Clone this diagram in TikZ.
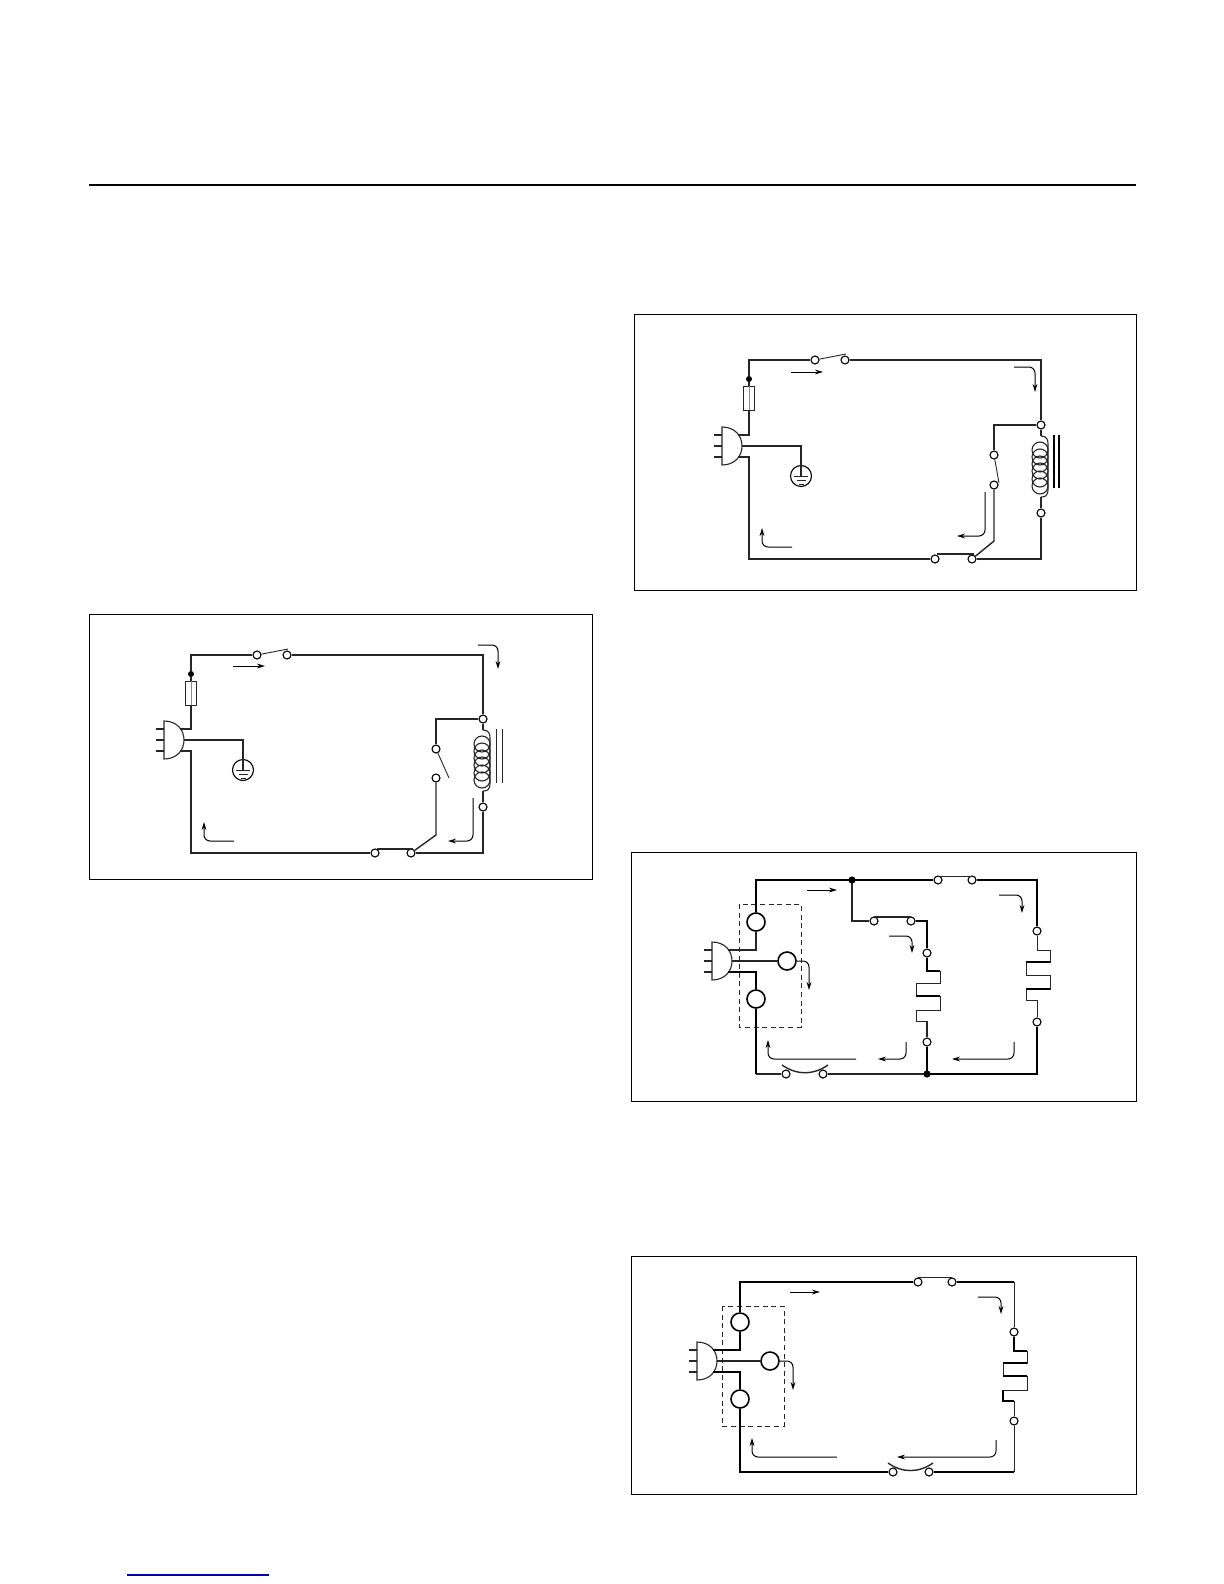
\documentclass[tikz,border=0pt]{standalone}
\usepackage{tikz}
\usetikzlibrary{arrows.meta}

\begin{document}
\begin{tikzpicture}
    [
        x=0.5pt, y=-0.5pt,
        frame/.style = {
            draw=black, line width=0.5pt
            },
        wire/.style = {
            draw=black!85, line width=0.7pt
            },
        heavywire/.style = {
            draw=black, line width=1.1pt
            },
        thinwire/.style = {
            draw=black!85, line width=0.45pt
            },
        flow/.style = {
            draw=black, line width=0.5pt, rounded corners=3pt,
            -{Stealth[length=4pt, width=2.4pt]}
            },
        terminal/.style = {
            circle, draw=black, fill=white, line width=0.55pt,
            inner sep=0pt, minimum size=4pt
            },
        lamp/.style = {
            circle, draw=black, fill=white, line width=0.8pt,
            inner sep=0pt, minimum size=9pt
            },
        junction/.style = {
            circle, fill=black, inner sep=0pt, minimum size=3pt
            },
        fuse/.style = {
            rectangle, draw=black!85, fill=white, line width=0.45pt,
            inner sep=0pt, minimum width=5.5pt, minimum height=12pt
            },
        plugsym/.pic = {
            \draw[thinwire, line width=0.55pt] (0,-19) .. controls (13,-19) and (20,-10) .. (20,0)
                .. controls (20,10) and (13,19) .. (0,19) -- cycle;
            \draw[thinwire, line width=0.55pt] (-8,-11) -- (0,-11);
            \draw[thinwire, line width=0.55pt] (-8,0) -- (0,0);
            \draw[thinwire, line width=0.55pt] (-8,11) -- (0,11);
            \coordinate (-top) at (16,-11);
            \coordinate (-mid) at (20,0);
            \coordinate (-bot) at (16,11);
            },
        groundsym/.pic = {
            \node[circle, draw=black, line width=0.55pt, inner sep=0pt, minimum size=10.5pt] (-can) at (0,0) {};
            \draw[thinwire] (-7,0) -- (7,0);
            \draw[thinwire] (-4.5,4) -- (4.5,4);
            \draw[thinwire] (-2.5,8) -- (2.5,8);
            \coordinate (-stem) at (0,0);
            },
        coilsym/.pic = {
            \draw[thinwire, line width=0.55pt] (-1,14) ellipse [x radius=8, y radius=8]
                (-1,21) ellipse [x radius=8, y radius=8]
                (-1,28) ellipse [x radius=8, y radius=8]
                (-1,35) ellipse [x radius=8, y radius=8]
                (-1,43) ellipse [x radius=8, y radius=8]
                (-1,50) ellipse [x radius=8, y radius=8];
            \draw[thinwire, line width=0.55pt] (0,0) .. controls (6,0) and (7,4) .. (7,8) -- (7,53)
                .. controls (7,60) and (4,61) .. (0,61);
            \coordinate (-top) at (0,0);
            \coordinate (-bot) at (0,61);
            },
        heatersym/.pic = {
            \coordinate (-p0) at (0,0);
            \coordinate (-p1) at (13,0);
            \coordinate (-p2) at (13,12);
            \coordinate (-p3) at (-11,12);
            \coordinate (-p4) at (-11,25);
            \coordinate (-p5) at (13,25);
            \coordinate (-p6) at (13,39);
            \coordinate (-p7) at (-11,39);
            \coordinate (-p8) at (-11,50);
            \coordinate (-p9) at (0,50);
            \draw[thinwire] (-p0) -- (-p1) -- (-p2) -- (-p3) -- (-p4) -- (-p5)
                -- (-p6) -- (-p7) -- (-p8) -- (-p9);
            },
    ]
    \useasboundingbox (0,0) rectangle (1224,1584);

    %page rules
    \coordinate (rule1) at (89,185);
    \coordinate (rule2) at (1136,185);
    \draw[line width=1pt] (rule1) -- (rule2);
    \coordinate (link1) at (127,1575);
    \coordinate (link2) at (269,1575);
    \draw[draw=blue!70!black, line width=0.6pt] (link1) -- (link2);

    %frames
    \draw[frame] (89,614) rectangle (592,879);
    \draw[frame] (634,314) rectangle (1136,590);
    \draw[frame] (631,852) rectangle (1136,1101);
    \draw[frame] (631,1256) rectangle (1136,1494);

    %---- first circuit ----
    %nodes
    \node[junction] (adot) at (191,674) {};
    \node[fuse] (afuse) at (191,693) {};
    \node[terminal] (asw1) at (257,655) {};
    \node[terminal] (asw2) at (287,655) {};
    \node[terminal] (acoil1) at (483,719) {};
    \node[terminal] (acoil2) at (483,807) {};
    \node[terminal] (arelay1) at (436,749) {};
    \node[terminal] (arelay2) at (436,778) {};
    \node[terminal] (asw3) at (375,853) {};
    \node[terminal] (asw4) at (411,853) {};
    \pic (aplug) at (164,740) {plugsym};
    \pic (agnd) at (243,770) {groundsym};
    \pic (acoil) at (483,730) {coilsym};
    \coordinate (atop) at (191,655);
    \coordinate (acorner) at (191,853);
    \coordinate (aarm) at (288,649);
    \coordinate (aopen) at (449,778);
    \coordinate (akink) at (436,835);
    \coordinate (abar1) at (377,849);
    \coordinate (abar2) at (413,849);
    \coordinate (acore1) at (496,729);
    \coordinate (acore2) at (496,783);
    \coordinate (acore3) at (502,729);
    \coordinate (acore4) at (502,783);
    %connecting nodes
    \draw[wire] (aplug-top) -| (afuse.south);
    \draw[thinwire, draw=black!45] (afuse.south) -- (afuse.north);
    \draw[wire] (afuse.north) -- (adot);
    \draw[wire] (adot) -- (atop) -- (asw1);
    \draw[wire] (asw2) -| (acoil1);
    \draw[wire] (acoil1) -- (acoil-top);
    \draw[wire] (acoil-bot) -- (acoil2);
    \draw[wire] (acoil2) |- (asw4);
    \draw[wire] (asw3) -- (acorner) |- (aplug-bot);
    \draw[wire] (aplug-mid) -| (agnd-stem);
    \draw[wire] (acoil1) -| (arelay1);
    \draw[wire] (arelay2) -- (akink) -- (asw4);
    \draw[thinwire] (asw1) -- (aarm);
    \draw[thinwire] (arelay1) -- (aopen);
    \draw[wire] (abar1) -- (abar2);
    \draw[thinwire] (acore1) -- (acore2);
    \draw[thinwire] (acore3) -- (acore4);
    %current arrows
    \coordinate (af1) at (233,666); \coordinate (af2) at (265,666);
    \draw[flow] (af1) -- (af2);
    \coordinate (af3) at (478,645); \coordinate (af4) at (498,669);
    \draw[flow] (af3) -| (af4);
    \coordinate (af5) at (473,798); \coordinate (af6) at (448,841);
    \draw[flow] (af5) |- (af6);
    \coordinate (af7) at (234,841); \coordinate (af8) at (204,822);
    \draw[flow] (af7) -| (af8);

    %---- second circuit ----
    %nodes
    \node[junction] (bdot) at (749,379) {};
    \node[fuse] (bfuse) at (749,398) {};
    \node[terminal] (bsw1) at (815,360) {};
    \node[terminal] (bsw2) at (845,360) {};
    \node[terminal] (bcoil1) at (1041,425) {};
    \node[terminal] (bcoil2) at (1041,513) {};
    \node[terminal] (brelay1) at (994,455) {};
    \node[terminal] (brelay2) at (994,485) {};
    \node[terminal] (bsw3) at (935,559) {};
    \node[terminal] (bsw4) at (972,559) {};
    \pic (bplug) at (722,446) {plugsym};
    \pic (bgnd) at (801,476) {groundsym};
    \pic (bcoil) at (1041,436) {coilsym};
    \coordinate (btop) at (749,360);
    \coordinate (bcorner) at (749,559);
    \coordinate (barm) at (846,354);
    \coordinate (bclosed) at (999,483);
    \coordinate (bkink) at (994,541);
    \coordinate (bbar1) at (937,554);
    \coordinate (bbar2) at (974,554);
    \coordinate (bcore1) at (1054,435);
    \coordinate (bcore2) at (1054,488);
    \coordinate (bcore3) at (1059,435);
    \coordinate (bcore4) at (1059,488);
    %connecting nodes
    \draw[wire] (bplug-top) -| (bfuse.south);
    \draw[thinwire, draw=black!45] (bfuse.south) -- (bfuse.north);
    \draw[wire] (bfuse.north) -- (bdot);
    \draw[wire] (bdot) -- (btop) -- (bsw1);
    \draw[wire] (bsw2) -| (bcoil1);
    \draw[wire] (bcoil1) -- (bcoil-top);
    \draw[wire] (bcoil-bot) -- (bcoil2);
    \draw[wire] (bcoil2) |- (bsw4);
    \draw[wire] (bsw3) -- (bcorner) |- (bplug-bot);
    \draw[wire] (bplug-mid) -| (bgnd-stem);
    \draw[wire] (bcoil1) -| (brelay1);
    \draw[wire] (brelay2) -- (bkink) -- (bsw4);
    \draw[thinwire] (bsw1) -- (barm);
    \draw[thinwire] (brelay1) -- (bclosed);
    \draw[wire] (bbar1) -- (bbar2);
    \draw[line width=0.8pt] (bcore1) -- (bcore2);
    \draw[line width=0.8pt] (bcore3) -- (bcore4);
    %current arrows
    \coordinate (bf1) at (791,372); \coordinate (bf2) at (823,372);
    \draw[flow] (bf1) -- (bf2);
    \coordinate (bf3) at (1014,367); \coordinate (bf4) at (1035,392);
    \draw[flow] (bf3) -| (bf4);
    \coordinate (bf5) at (985,492); \coordinate (bf6) at (957,536);
    \draw[flow] (bf5) |- (bf6);
    \coordinate (bf7) at (792,547); \coordinate (bf8) at (762,528);
    \draw[flow] (bf7) -| (bf8);

    %---- third circuit ----
    %nodes
    \draw[thinwire, dashed, dash pattern=on 2.5pt off 1.8pt] (739,904) rectangle (801,1027);
    \node[lamp] (clamp1) at (756,922) {};
    \node[lamp] (clamp2) at (787,961) {};
    \node[lamp] (clamp3) at (756,999) {};
    \node[terminal] (csw1) at (938,880) {};
    \node[terminal] (csw2) at (972,880) {};
    \node[terminal] (csw3) at (874,921) {};
    \node[terminal] (csw4) at (911,921) {};
    \node[terminal] (csw5) at (786,1074) {};
    \node[terminal] (csw6) at (823,1074) {};
    \node[terminal] (cterm1) at (1037,931) {};
    \node[terminal] (cterm2) at (1037,1022) {};
    \node[terminal] (cterm3) at (927,953) {};
    \node[terminal] (cterm4) at (927,1042) {};
    \pic (cplug) at (712,961) {plugsym};
    \pic (cheat1) at (1037,950) {heatersym};
    \pic (cheat2) at (927,971) {heatersym};
    \coordinate (cdot1) at (852,880);
    \coordinate (cdot2) at (927,1074);
    \coordinate (ctop1) at (756,880);
    \coordinate (ctop2) at (1037,880);
    \coordinate (cbot1) at (756,1074);
    \coordinate (cbot2) at (1037,1074);
    \coordinate (cbar1) at (938,876);
    \coordinate (cbar2) at (972,876);
    \coordinate (cbar3) at (874,917);
    \coordinate (cbar4) at (911,917);
    \coordinate (carc1) at (782,1065);
    \coordinate (carc2) at (828,1065);
    %connecting nodes
    \draw[wire] (cplug-top) -| (clamp1);
    \draw[heavywire] (clamp1) -- (ctop1) -- (cdot1) -- (csw1);
    \draw[heavywire] (csw2) -- (ctop2) -- (cterm1);
    \draw[thinwire] (cterm1) -- (cheat1-p0);
    \draw[heavywire] (cheat1-p2) -- (cheat1-p3);
    \draw[heavywire] (cheat1-p6) -- (cheat1-p7);
    \draw[thinwire] (cheat1-p9) -- (cterm2);
    \draw[heavywire] (cterm2) -- (cbot2) -- (cdot2);
    \draw[wire] (cdot2) -- (csw6);
    \draw[wire] (csw5) -- (cbot1);
    \draw[heavywire] (cbot1) -- (clamp3);
    \draw[heavywire] (clamp3) |- (cplug-bot);
    \draw[thinwire, line width=0.55pt] (cplug-mid) -- (clamp2);
    \draw[wire] (cdot1) |- (csw3);
    \draw[heavywire] (csw4) -| (cterm3);
    \draw[heavywire] (cterm3) -- (cheat2-p0) -- (cheat2-p1);
    \draw[heavywire] (cheat2-p4) -- (cheat2-p5);
    \draw[wire] (cheat2-p9) -- (cterm4);
    \draw[heavywire] (cterm4) -- (cdot2);
    \draw[thinwire] (cbar1) -- (cbar2);
    \draw[wire] (cbar3) -- (cbar4);
    \draw[wire] (carc1) to[out=-35, in=-145] (carc2);
    %drawn last so that the wires do not square them off
    \node[junction, minimum size=3.6pt] at (cdot1) {};
    \node[junction, minimum size=3.6pt] at (cdot2) {};
    %current arrows
    \coordinate (cf1) at (807,890); \coordinate (cf2) at (837,890);
    \draw[flow] (cf1) -- (cf2);
    \coordinate (cf3) at (999,895); \coordinate (cf4) at (1022,913);
    \draw[flow] (cf3) -| (cf4);
    \coordinate (cf5) at (889,936); \coordinate (cf6) at (912,953);
    \draw[flow] (cf5) -| (cf6);
    \coordinate (cf7) at (797,961); \coordinate (cf8) at (809,990);
    \draw[flow] (cf7) -| (cf8);
    \coordinate (cf9) at (856,1059); \coordinate (cf10) at (768,1040);
    \draw[flow] (cf9) -| (cf10);
    \coordinate (cf11) at (906,1042); \coordinate (cf12) at (878,1059);
    \draw[flow] (cf11) |- (cf12);
    \coordinate (cf13) at (1014,1042); \coordinate (cf14) at (952,1059);
    \draw[flow] (cf13) |- (cf14);

    %---- fourth circuit ----
    %nodes
    \draw[thinwire, dashed, dash pattern=on 2.5pt off 1.8pt] (722,1306) rectangle (784,1426);
    \node[lamp] (dlamp1) at (740,1322) {};
    \node[lamp] (dlamp2) at (770,1361) {};
    \node[lamp] (dlamp3) at (740,1399) {};
    \node[terminal] (dsw1) at (918,1282) {};
    \node[terminal] (dsw2) at (952,1282) {};
    \node[terminal] (dsw3) at (893,1472) {};
    \node[terminal] (dsw4) at (929,1472) {};
    \node[terminal] (dterm1) at (1014,1332) {};
    \node[terminal] (dterm2) at (1014,1421) {};
    \pic (dplug) at (697,1361) {plugsym};
    \pic (dheat) at (1014,1351) {heatersym};
    \coordinate (dtop1) at (740,1282);
    \coordinate (dtop2) at (1014,1282);
    \coordinate (dbot1) at (740,1472);
    \coordinate (dbot2) at (1014,1472);
    \coordinate (dbar1) at (918,1277);
    \coordinate (dbar2) at (952,1277);
    \coordinate (darc1) at (888,1463);
    \coordinate (darc2) at (933,1463);
    %connecting nodes
    \draw[heavywire] (dplug-top) -| (dlamp1);
    \draw[heavywire] (dlamp1) -- (dtop1) -- (dsw1);
    \draw[heavywire] (dsw2) -- (dtop2);
    \draw[thinwire] (dtop2) -- (dterm1);
    \draw[heavywire] (dterm1) -- (dheat-p0) -- (dheat-p1);
    \draw[heavywire] (dheat-p2) -- (dheat-p3);
    \draw[heavywire] (dheat-p4) -- (dheat-p5);
    \draw[heavywire] (dheat-p7) -- (dheat-p8) -- (dheat-p9);
    \draw[thinwire] (dheat-p9) -- (dterm2);
    \draw[thinwire] (dterm2) -- (dbot2);
    \draw[heavywire] (dbot2) -- (dsw4);
    \draw[heavywire] (dsw3) -- (dbot1) -- (dlamp3);
    \draw[heavywire] (dlamp3) |- (dplug-bot);
    \draw[wire] (dplug-mid) -- (dlamp2);
    \draw[thinwire] (dbar1) -- (dbar2);
    \draw[wire] (darc1) to[out=-35, in=-145] (darc2);
    %current arrows
    \coordinate (df1) at (790,1292); \coordinate (df2) at (820,1292);
    \draw[flow] (df1) -- (df2);
    \coordinate (df3) at (978,1297); \coordinate (df4) at (1001,1314);
    \draw[flow] (df3) -| (df4);
    \coordinate (df5) at (780,1361); \coordinate (df6) at (793,1390);
    \draw[flow] (df5) -| (df6);
    \coordinate (df7) at (837,1457); \coordinate (df8) at (752,1438);
    \draw[flow] (df7) -| (df8);
    \coordinate (df9) at (996,1440); \coordinate (df10) at (897,1457);
    \draw[flow] (df9) |- (df10);

\end{tikzpicture}
\end{document}
